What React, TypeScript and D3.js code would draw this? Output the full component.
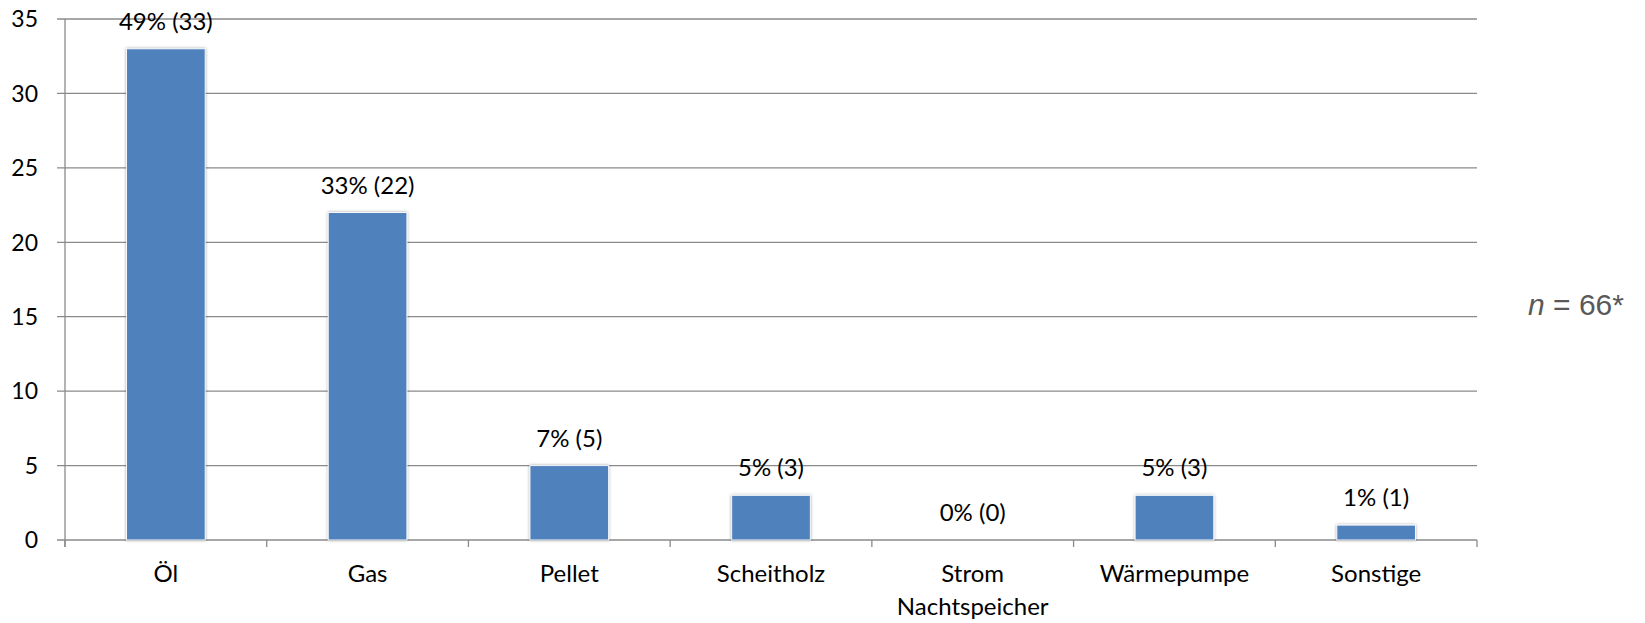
import { useEffect, useRef } from 'react';
import * as d3 from 'd3';

const categories = ['Öl', 'Gas', 'Pellet', 'Scheitholz', 'Strom\nNachtspeicher', 'Wärmepumpe', 'Sonstige'];
const counts = [33, 22, 5, 3, 0, 3, 1];
const percents = [49, 33, 7, 5, 0, 5, 1];
const yTicks = [0, 5, 10, 15, 20, 25, 30, 35];
const sampleSize = '66*';

export default function App() {
  const svgRef = useRef<SVGSVGElement>(null);

  useEffect(() => {
    if (!svgRef.current) return;
    d3.select(svgRef.current).selectAll('*').remove();

    const W = 1645;
    const H = 623;
    const margin = { top: 19, right: 168, bottom: 83, left: 65 };
    const width = W - margin.left - margin.right;
    const height = H - margin.top - margin.bottom;
    const font = 'Lato, Carlito, Calibri, sans-serif';
    const gridColor = '#8a8a8a';

    const svg = d3.select(svgRef.current);

    const defs = svg.append('defs');
    const shadow = defs.append('filter')
      .attr('id', 'bar-shadow')
      .attr('x', '-20%').attr('y', '-20%')
      .attr('width', '140%').attr('height', '140%');
    shadow.append('feDropShadow')
      .attr('dx', 0).attr('dy', 0)
      .attr('stdDeviation', 1.6)
      .attr('flood-color', '#000')
      .attr('flood-opacity', 0.35);

    const g = svg.append('g')
      .attr('transform', `translate(${margin.left},${margin.top})`);

    const x = d3.scaleBand()
      .domain(categories)
      .range([0, width])
      .paddingInner(0.61)
      .paddingOuter(0.305);

    const y = d3.scaleLinear()
      .domain([0, 35])
      .range([height, 0]);

    // horizontal grid lines incl. left tick marks
    g.append('g')
      .selectAll('line')
      .data(yTicks)
      .join('line')
      .attr('x1', -8)
      .attr('x2', width)
      .attr('y1', d => y(d))
      .attr('y2', d => y(d))
      .attr('stroke', gridColor)
      .attr('stroke-width', 1.3);

    // y axis line
    g.append('line')
      .attr('x1', 0).attr('x2', 0)
      .attr('y1', 0).attr('y2', height + 7)
      .attr('stroke', gridColor)
      .attr('stroke-width', 1.3);

    // x tick marks between categories
    const step = width / categories.length;
    g.append('g')
      .selectAll('line')
      .data(d3.range(categories.length + 1))
      .join('line')
      .attr('x1', d => d * step)
      .attr('x2', d => d * step)
      .attr('y1', height)
      .attr('y2', height + 7)
      .attr('stroke', gridColor)
      .attr('stroke-width', 1.3);

    // y labels
    g.append('g')
      .selectAll('text')
      .data(yTicks)
      .join('text')
      .attr('x', -27)
      .attr('y', d => y(d))
      .attr('dy', '0.36em')
      .attr('text-anchor', 'end')
      .style('font-family', font)
      .style('font-size', '23px')
      .attr('fill', '#000')
      .text(d => d);

    // bars
    g.append('g')
      .selectAll('rect')
      .data(counts.map((c, i) => ({ c, name: categories[i] })).filter(d => d.c > 0))
      .join('rect')
      .attr('x', d => x(d.name) || 0)
      .attr('width', x.bandwidth())
      .attr('y', d => y(d.c))
      .attr('height', d => height - y(d.c))
      .attr('fill', '#4f81bd')
      .attr('stroke', '#f4f7fb')
      .attr('stroke-width', 1)
      .attr('filter', 'url(#bar-shadow)');

    // value labels
    g.append('g')
      .selectAll('text')
      .data(counts)
      .join('text')
      .attr('x', (d, i) => (x(categories[i]) || 0) + x.bandwidth() / 2)
      .attr('y', d => y(d) - 19)
      .attr('text-anchor', 'middle')
      .style('font-family', font)
      .style('font-size', '24px')
      .attr('fill', '#000')
      .text((d, i) => `${percents[i]}% (${d})`);

    // category labels
    g.append('g')
      .selectAll('text')
      .data(categories)
      .join('text')
      .attr('x', d => (x(d) || 0) + x.bandwidth() / 2)
      .attr('y', height + 42)
      .attr('text-anchor', 'middle')
      .style('font-family', font)
      .style('font-size', '24px')
      .attr('fill', '#000')
      .each(function (d) {
        const t = d3.select(this);
        d.split('\n').forEach((line, i) => {
          t.append('tspan')
            .attr('x', (x(d) || 0) + x.bandwidth() / 2)
            .attr('dy', i === 0 ? 0 : 33)
            .text(line);
        });
      });

    // sample size note
    const note = svg.append('text')
      .attr('x', 1528)
      .attr('y', 315)
      .style('font-family', 'Liberation Sans, Arial, sans-serif')
      .style('font-size', '30px')
      .attr('fill', '#595959');
    note.append('tspan').style('font-style', 'italic').text('n');
    note.append('tspan').text(` = ${sampleSize}`);
  }, []);

  return (
    <svg
      ref={svgRef}
      width={1645}
      height={623}
      style={{ position: 'absolute', left: 0, top: 0, background: '#fff' }}
    />
  );
}
